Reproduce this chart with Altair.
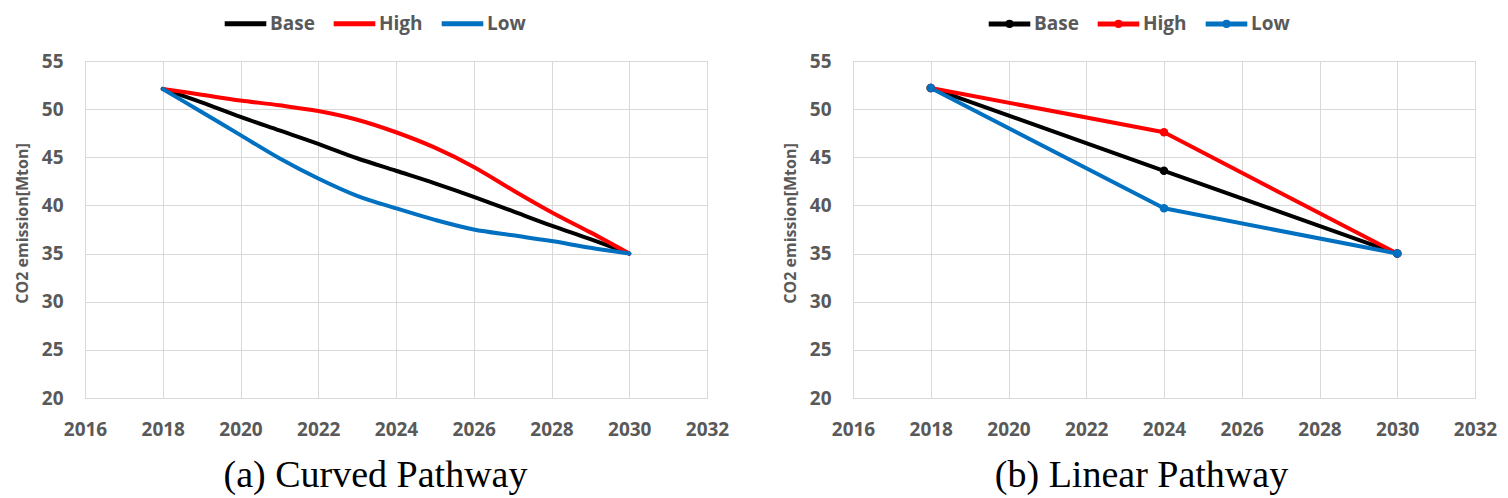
import altair as alt
import pandas as pd

series = ["Base", "High", "Low"]
colors = ["#000000", "#FF0000", "#0070C0"]

curved_years = [2018, 2019, 2020, 2021, 2022, 2023, 2024, 2025, 2026, 2027, 2028, 2029, 2030]
curved_base = [52.1, 50.7, 49.2, 47.8, 46.4, 44.9, 43.6, 42.3, 40.9, 39.4, 37.9, 36.5, 35.0]
curved_high = [52.1, 51.5, 50.9, 50.4, 49.8, 48.9, 47.6, 46.0, 44.0, 41.6, 39.3, 37.2, 35.0]
curved_low = [52.1, 49.7, 47.3, 44.9, 42.8, 41.0, 39.7, 38.5, 37.5, 36.9, 36.3, 35.6, 35.0]

linear_years = [2018, 2024, 2030]
linear_base = [52.2, 43.6, 35.0]
linear_high = [52.2, 47.6, 35.0]
linear_low = [52.2, 39.7, 35.0]

x_ticks = [2016, 2018, 2020, 2022, 2024, 2026, 2028, 2030, 2032]
y_ticks = [20, 25, 30, 35, 40, 45, 50, 55]


def make_df(years, base, high, low):
    rows = []
    for name, vals in zip(series, [base, high, low]):
        for yr, v in zip(years, vals):
            rows.append({"year": yr, "value": v, "series": name})
    return pd.DataFrame(rows)


df_curved = make_df(curved_years, curved_base, curved_high, curved_low)
df_linear = make_df(linear_years, linear_base, linear_high, linear_low)

LABEL_FONT = "Open Sans"
GRAY = "#595959"
GRID = "#D9D9D9"
W, H = 622, 337

SYM_LINE = "M-2.6,0H2.6"
SYM_LINE_DOT = "M-2.6,0H2.6M-0.2,0A0.2,0.2 0 1,1 0.2,0A0.2,0.2 0 1,1 -0.2,0Z"


def panel(df, caption, legend_x, title_x, markers, symbol):
    x = alt.X(
        "year:Q",
        scale=alt.Scale(domain=[2016, 2032], nice=False, zero=False),
        axis=alt.Axis(
            values=x_ticks, format="d", grid=True, gridColor=GRID, domain=False,
            ticks=False, labelFont=LABEL_FONT, labelFontSize=19, labelFontWeight="bold",
            labelColor=GRAY, labelPadding=22, title=caption, titleFont="Liberation Serif",
            titleFontSize=38, titleFontWeight="normal", titleColor="#000000",
            titlePadding=17, titleX=title_x, titleAlign="center", labelFlush=False,
        ),
    )
    y = alt.Y(
        "value:Q",
        scale=alt.Scale(domain=[20, 55], nice=False, zero=False),
        axis=alt.Axis(
            values=y_ticks, grid=True, gridColor=GRID, domain=False, ticks=False,
            labelFont=LABEL_FONT, labelFontSize=19, labelFontWeight="bold",
            labelColor=GRAY, labelPadding=22, title="CO2 emission[Mton]",
            titleFont=LABEL_FONT, titleFontSize=16, titleFontWeight="bold",
            titleColor=GRAY, titlePadding=11, titleY=162, titleAlign="center",
        ),
    )
    color = alt.Color(
        "series:N",
        scale=alt.Scale(domain=series, range=colors),
        legend=alt.Legend(
            orient="none", legendX=legend_x, legendY=-48, direction="horizontal",
            title=None, symbolType=symbol, symbolStrokeWidth=5, symbolSize=256,
            labelFont=LABEL_FONT, labelFontSize=19, labelFontWeight="bold",
            labelColor=GRAY, columnPadding=8, labelOffset=14, padding=0,
        ),
    )
    base = alt.Chart(df).encode(x=x, y=y, color=color, order="year:Q")
    line = base.mark_line(
        strokeWidth=4, strokeCap="round", strokeJoin="round",
        interpolate="catmull-rom" if not markers else "linear",
    )
    if markers:
        pts = base.mark_circle(size=72, opacity=1)
        ch = alt.layer(line, pts)
    else:
        ch = line
    return ch.properties(width=W, height=H)


left = panel(df_curved, "(a) Curved Pathway", 150, 290, False, SYM_LINE)
right = panel(df_linear, "(b) Linear Pathway", 146, 288, True, SYM_LINE_DOT)

chart = (
    alt.hconcat(left, right, spacing=51)
    .resolve_scale(color="independent")
    .resolve_legend(color="independent")
    .configure_view(stroke=GRID)
    .properties(padding={"left": 5, "top": 4, "right": 0, "bottom": 0}, background="white")
)

chart.save("out.html", embed_options={"renderer": "svg", "actions": False})
